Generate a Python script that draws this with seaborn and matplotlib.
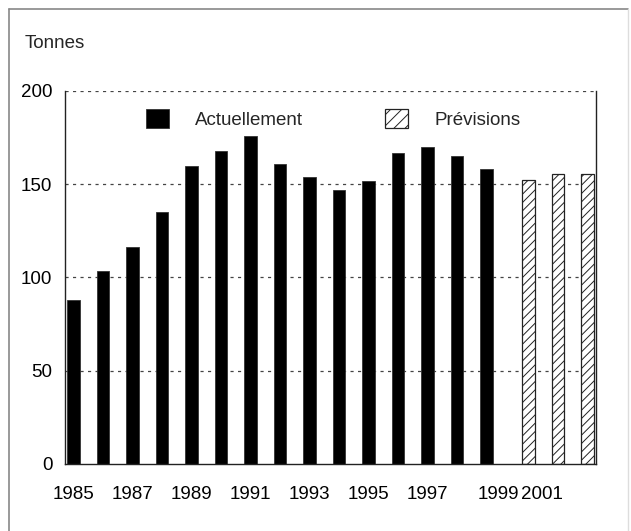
import matplotlib
matplotlib.use("Agg")
import matplotlib.pyplot as plt
from matplotlib.patches import Patch
from matplotlib.lines import Line2D
import seaborn as sns
import pandas as pd

# ---- data ----
actual_years = [1985, 1986, 1987, 1988, 1989, 1990, 1991, 1992, 1993, 1994, 1995, 1996, 1997, 1998, 1999]
actual_values = [87.8, 103.4, 116.1, 135.1, 159.8, 167.8, 175.9, 160.9, 153.9, 146.8, 151.4, 166.6, 169.6, 165.1, 158.2]
forecast_years = [2000, 2001, 2002]
forecast_values = [152.3, 155.5, 155.5]
series_names = ["Actuellement", "Prévisions"]
tick_labels = ["1985", "1987", "1989", "1991", "1993", "1995", "1997", "1999", "2001"]
tick_positions = [1984.785, 1986.785, 1988.785, 1990.785, 1992.785, 1994.785, 1996.785, 1999.2, 2000.67]
y_ticks = [0, 50, 100, 150, 200]

df = pd.DataFrame({
    "year": actual_years + forecast_years,
    "value": actual_values + forecast_values,
    "kind": [series_names[0]] * len(actual_years) + [series_names[1]] * len(forecast_years),
})

sns.set_theme(style="white")
plt.rcParams["font.family"] = ["Liberation Sans", "DejaVu Sans"]
plt.rcParams["hatch.linewidth"] = 0.7
plt.rcParams["hatch.color"] = "#222222"

FS = 13.5
W, H = 631, 531
fig = plt.figure(figsize=(W / 100, H / 100), dpi=100)
ax = fig.add_axes([65 / W, 1 - 464 / H, (596 - 65) / W, (464 - 90.7) / H])

sns.barplot(data=df, x="year", y="value", hue="kind", hue_order=series_names,
            palette={series_names[0]: "black", series_names[1]: "white"},
            native_scale=True, dodge=True, width=0.86, errorbar=None,
            legend=False, ax=ax, saturation=1)

for bar in ax.containers[0]:
    bar.set_edgecolor("#333333")
    bar.set_linewidth(0.6)
for bar in ax.containers[1]:
    bar.set_facecolor("white")
    bar.set_edgecolor("#222222")
    bar.set_linewidth(0.9)
    bar.set_hatch("////")

ax.set_xlim(1984.5, 2002.5)
ax.set_ylim(0, 200)
ax.set_yticks(y_ticks)
ax.set_yticklabels([str(v) for v in y_ticks], fontsize=FS, color="black")
ax.set_xticks(tick_positions)
ax.set_xticklabels(tick_labels, fontsize=FS, color="black")
ax.tick_params(axis="y", length=0, pad=9)
ax.tick_params(axis="x", length=0, pad=16)
ax.set_xlabel("")
ax.set_ylabel("")

for v in y_ticks[1:]:
    ax.axhline(v, color="#444444", linewidth=0.9, linestyle=(0, (2.5, 3.5)), zorder=0.5)

for side in ["left", "bottom", "right"]:
    ax.spines[side].set_visible(True)
    ax.spines[side].set_color("#222222")
    ax.spines[side].set_linewidth(1.0)
ax.spines["top"].set_visible(False)

handles = [Patch(facecolor="black", edgecolor="#333333", linewidth=0.6),
           Patch(facecolor="white", edgecolor="#222222", hatch="///", linewidth=0.9)]
fig.legend(handles, series_names, loc="center left",
           bbox_to_anchor=(146 / W, 1 - 119 / H), bbox_transform=fig.transFigure,
           ncol=2, frameon=False, fontsize=FS, handlelength=1.22, handleheight=1.17,
           handletextpad=1.38, columnspacing=4.4, borderpad=0, borderaxespad=0)

fig.text(25 / W, 1 - 43 / H, "Tonnes", fontsize=FS, va="center", ha="left")

# figure frame
fig.add_artist(Line2D([9 / W, 9 / W], [1 - 9 / H, 0], transform=fig.transFigure, color="#888888", lw=1.2))
fig.add_artist(Line2D([9 / W, 628 / W], [1 - 9 / H, 1 - 9 / H], transform=fig.transFigure, color="#888888", lw=1.2))
fig.add_artist(Line2D([628 / W, 628 / W], [1 - 9 / H, 0], transform=fig.transFigure, color="#dddddd", lw=1.0))

fig.savefig("out.png", dpi=100, facecolor="white")
